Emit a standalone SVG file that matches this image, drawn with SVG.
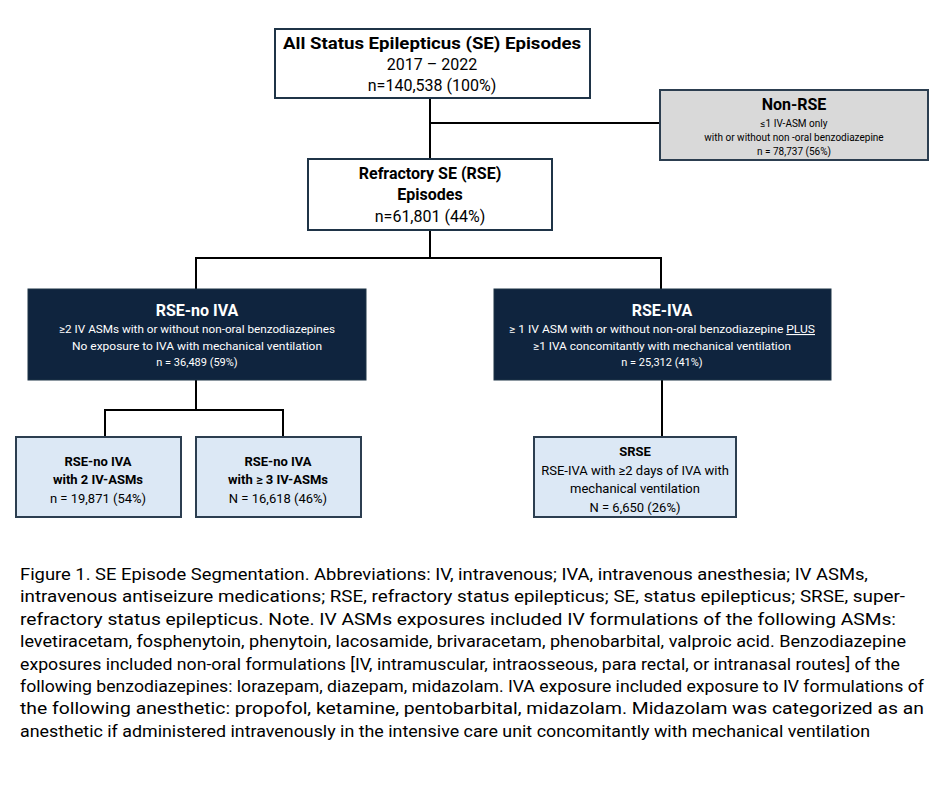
<svg xmlns="http://www.w3.org/2000/svg" width="940" height="788" viewBox="0 0 940 788">
<style>
text{font-family:"Roboto","Liberation Sans",sans-serif;text-anchor:middle;fill:#000}
.b{fill:#fff;stroke:#1f3447;stroke-width:2}
.g{fill:#d9d9d9;stroke:#2c3e50;stroke-width:2}
.d{fill:#0f243e;stroke:#1f3447;stroke-width:1}
.l{fill:#dce8f5;stroke:#2c3e50;stroke-width:2}
.w{fill:#fff}
.bd{font-weight:bold}
.c{text-anchor:start;font-size:17px;font-family:"Roboto","Liberation Sans",sans-serif}
line,polyline{stroke:#000;stroke-width:2;fill:none}
</style>
<rect width="940" height="788" fill="#fff"/>
<g id="connectors">
<line x1="430" y1="98" x2="430" y2="159"/>
<line x1="430" y1="123" x2="660" y2="123"/>
<line x1="430" y1="230" x2="430" y2="258"/>
<polyline points="196,289 196,258 661,258 661,289"/>
<line x1="196" y1="380" x2="196" y2="410"/>
<polyline points="105,437 105,410 283,410 283,437"/>
<line x1="662" y1="380" x2="662" y2="437"/>
</g>
<g id="all">
<rect class="b" x="275" y="29" width="315" height="69"/>
<text x="432" y="49" font-size="16" class="bd" textLength="298" lengthAdjust="spacingAndGlyphs">All Status Epilepticus (SE) Episodes</text>
<text x="432" y="70" font-size="16">2017 – 2022</text>
<text x="432" y="91" font-size="16">n=140,538 (100%)</text>
</g>
<g id="nonrse">
<rect class="g" x="660" y="90" width="268" height="70"/>
<text x="794" y="110" font-size="16" class="bd">Non-RSE</text>
<text x="794" y="127" font-size="10">≤1 IV-ASM only</text>
<text x="794" y="141" font-size="10">with or without non -oral benzodiazepine</text>
<text x="794" y="155" font-size="10">n = 78,737 (56%)</text>
</g>
<g id="rse">
<rect class="b" x="308" y="159" width="244" height="71"/>
<text x="430" y="179" font-size="16" class="bd">Refractory SE (RSE)</text>
<text x="430" y="200" font-size="16" class="bd">Episodes</text>
<text x="430" y="222" font-size="16">n=61,801 (44%)</text>
</g>
<g id="rsenoiva">
<rect class="d" x="28" y="289" width="338" height="91"/>
<text x="197" y="316" font-size="16" class="bd w" style="fill:#fff">RSE-no IVA</text>
<text x="197" y="333" font-size="11" style="fill:#fff" textLength="276" lengthAdjust="spacingAndGlyphs">≥2 IV ASMs with or without non-oral benzodiazepines</text>
<text x="197" y="350" font-size="11" style="fill:#fff" textLength="250" lengthAdjust="spacingAndGlyphs">No exposure to IVA with mechanical ventilation</text>
<text x="197" y="366" font-size="11" style="fill:#fff">n = 36,489 (59%)</text>
</g>
<g id="rseiva">
<rect class="d" x="494" y="289" width="337" height="91"/>
<text x="662" y="316" font-size="16" class="bd" style="fill:#fff">RSE-IVA</text>
<text x="662" y="333" font-size="11" style="fill:#fff" textLength="306" lengthAdjust="spacingAndGlyphs">≥ 1 IV ASM with or without non-oral benzodiazepine <tspan text-decoration="underline">PLUS</tspan></text>
<text x="662" y="350" font-size="11" style="fill:#fff" textLength="258" lengthAdjust="spacingAndGlyphs">≥1 IVA concomitantly with mechanical ventilation</text>
<text x="662" y="366" font-size="11" style="fill:#fff">n = 25,312 (41%)</text>
</g>
<g id="two">
<rect class="l" x="16" y="437" width="165" height="80"/>
<text x="98" y="466" font-size="13" class="bd">RSE-no IVA</text>
<text x="98" y="484" font-size="13" class="bd">with 2 IV-ASMs</text>
<text x="98" y="503" font-size="13">n = 19,871 (54%)</text>
</g>
<g id="three">
<rect class="l" x="196" y="437" width="165" height="80"/>
<text x="278" y="466" font-size="13" class="bd">RSE-no IVA</text>
<text x="278" y="484" font-size="13" class="bd">with ≥ 3 IV-ASMs</text>
<text x="278" y="503" font-size="13">N = 16,618 (46%)</text>
</g>
<g id="srse">
<rect class="l" x="534" y="437" width="202" height="80"/>
<text x="635" y="456" font-size="13" class="bd">SRSE</text>
<text x="635" y="475" font-size="13">RSE-IVA with ≥2 days of IVA with</text>
<text x="635" y="493" font-size="13">mechanical ventilation</text>
<text x="635" y="512" font-size="13">N = 6,650 (26%)</text>
</g>
<g id="caption">
<text class="c" x="20" y="580" textLength="848" lengthAdjust="spacingAndGlyphs">Figure 1. SE Episode Segmentation. Abbreviations: IV, intravenous; IVA, intravenous anesthesia; IV ASMs,</text>
<text class="c" x="20" y="602" textLength="885" lengthAdjust="spacingAndGlyphs">intravenous antiseizure medications; RSE, refractory status epilepticus; SE, status epilepticus; SRSE, super-</text>
<text class="c" x="20" y="625" textLength="876" lengthAdjust="spacingAndGlyphs">refractory status epilepticus. Note. IV ASMs exposures included IV formulations of the following ASMs:</text>
<text class="c" x="20" y="647" textLength="886" lengthAdjust="spacingAndGlyphs">levetiracetam, fosphenytoin, phenytoin, lacosamide, brivaracetam, phenobarbital, valproic acid. Benzodiazepine</text>
<text class="c" x="20" y="670" textLength="880" lengthAdjust="spacingAndGlyphs">exposures included non-oral formulations [IV, intramuscular, intraosseous, para rectal, or intranasal routes] of the</text>
<text class="c" x="20" y="692" textLength="904" lengthAdjust="spacingAndGlyphs">following benzodiazepines: lorazepam, diazepam, midazolam. IVA exposure included exposure to IV formulations of</text>
<text class="c" x="20" y="714" textLength="904" lengthAdjust="spacingAndGlyphs">the following anesthetic: propofol, ketamine, pentobarbital, midazolam. Midazolam was categorized as an</text>
<text class="c" x="20" y="737" textLength="850" lengthAdjust="spacingAndGlyphs">anesthetic if administered intravenously in the intensive care unit concomitantly with mechanical ventilation</text>
</g>
</svg>
